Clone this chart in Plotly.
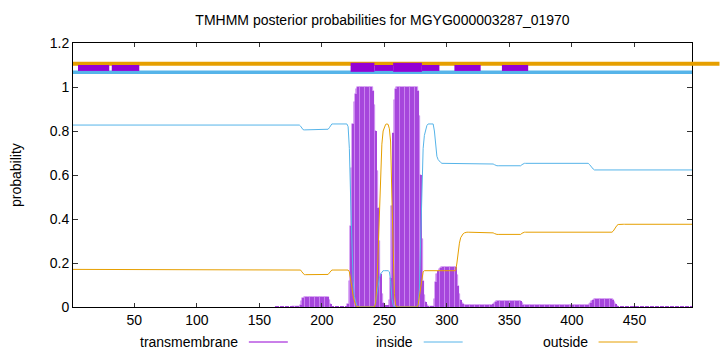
import plotly.graph_objects as go

# ---------------- data ----------------
seq_len = 496
residues = list(range(1, seq_len + 1))

# posterior probability of "inside" per residue
inside = ([0.827] * 182 + [0.822, 0.812, 0.806] + [0.805] * 19 + [0.808, 0.815, 0.825]
          + [0.832] * 13 + [0.82, 0.72, 0.5, 0.28, 0.12, 0.05, 0.02, 0.005] + [0.0] * 14
          + [0.02, 0.06, 0.1, 0.13, 0.15, 0.16] + [0.165] * 5 + [0.16, 0.12, 0.04, 0.01]
          + [0.0] * 19 + [0.01, 0.08, 0.3, 0.55, 0.72, 0.78, 0.81, 0.825] + [0.832] * 5
          + [0.8, 0.72, 0.685, 0.67, 0.662, 0.657] + [0.653] * 41 + [0.65, 0.647, 0.644]
          + [0.642] * 20 + [0.647, 0.651] + [0.653] * 52 + [0.648, 0.64, 0.632, 0.627]
          + [0.623] * 79)

# posterior probability of "outside" per residue
outside = ([0.171] * 182 + [0.168, 0.16, 0.152] + [0.147] * 19 + [0.148, 0.155, 0.163]
           + [0.168] * 13 + [0.168, 0.16, 0.13, 0.09, 0.05, 0.02, 0.008, 0.002] + [0.0] * 14
           + [0.02, 0.1, 0.25, 0.45, 0.62, 0.74, 0.8, 0.82, 0.83, 0.832, 0.83, 0.81, 0.75,
              0.5, 0.2, 0.06, 0.01]
           + [0.0] * 17 + [0.01, 0.05, 0.1, 0.14, 0.16] + [0.165] * 26
           + [0.2, 0.25, 0.29, 0.315, 0.327, 0.333, 0.337] + [0.34] * 22
           + [0.337, 0.334, 0.331] + [0.33] * 20 + [0.335, 0.339] + [0.34] * 71
           + [0.345, 0.355, 0.365, 0.371, 0.375] + [0.376] * 59)

# posterior probability of "transmembrane" per residue
transmembrane = ([0.0] * 162 + [0.002] * 14 + [0.004] * 6 + [0.01, 0.028, 0.042] + [0.047] * 19
                 + [0.044, 0.03, 0.012] + [0.002] * 13
                 + [0.012, 0.12, 0.37, 0.63, 0.83, 0.93, 0.97, 0.99] + [1.0] * 12
                 + [0.98, 0.92, 0.8, 0.62, 0.45, 0.3, 0.15, 0.06, 0.02, 0.01, 0.005, 0.003,
                    0.005, 0.03, 0.13, 0.46, 0.79, 0.94, 0.99]
                 + [1.0] * 17 + [0.98, 0.87, 0.6, 0.31, 0.12, 0.055, 0.025, 0.01] + [0.003] * 5
                 + [0.035, 0.115, 0.15, 0.165, 0.173, 0.178] + [0.182] * 12
                 + [0.147, 0.097, 0.057, 0.032, 0.02, 0.014, 0.01] + [0.007] * 22
                 + [0.013, 0.019, 0.025] + [0.028] * 20 + [0.018, 0.01] + [0.007] * 52
                 + [0.012, 0.02, 0.028, 0.033] + [0.037] * 15
                 + [0.032, 0.022, 0.012, 0.006, 0.002] + [0.001] * 59)

# topology strip at the top (start, end residue)
tm_tall_segments = [(223, 242), (257, 280)]
tm_low_segments = [(5, 30), (32, 54), (242, 257), (280, 294), (306, 327), (344, 365)]
inside_level = 1.067
outside_level = 1.106

title_text = "TMHMM posterior probabilities for MGYG000003287_01970"
x_ticks = [50, 100, 150, 200, 250, 300, 350, 400, 450]
y_ticks = [0, 0.2, 0.4, 0.6, 0.8, 1.0, 1.2]
legend_labels = ["transmembrane", "inside", "outside"]

# ---------------- styling ----------------
PURPLE = "#9400d3"
BLUE = "#56b4e9"
ORANGE = "#e69f00"
LIGHT_PURPLE = "#c880ee"
DARK_PURPLE = "#a646dc"
CLEAR = "rgba(0,0,0,0)"
FONT = "Liberation Sans, Arial, sans-serif"

W, H = 720, 352
L, R, T, B = 73, 692.5, 43, 307


def pxx(px):
    return (px - L) / (R - L)


def pxy(py):
    return (B - py) / (B - T)


stripe_colors = [DARK_PURPLE if i % 2 == 0 else CLEAR for i in range(seq_len)]
under_line_colors = [LIGHT_PURPLE if v > 0.004 else CLEAR for v in transmembrane]

fig = go.Figure()
# light underlay (solid area of the impulses)
fig.add_trace(go.Bar(x=residues, y=transmembrane, width=1.0,
                     marker=dict(color=LIGHT_PURPLE, line=dict(width=0.6, color=under_line_colors)),
                     showlegend=False, hoverinfo="skip"))
# darker stripes produced by the impulses in the reference
fig.add_trace(go.Bar(x=residues, y=transmembrane, width=0.9,
                     marker=dict(color=stripe_colors, line=dict(width=0)),
                     showlegend=False, hoverinfo="skip"))
fig.add_trace(go.Scatter(x=residues, y=inside, mode="lines",
                         line=dict(color=BLUE, width=1), showlegend=False))
fig.add_trace(go.Scatter(x=residues, y=outside, mode="lines",
                         line=dict(color=ORANGE, width=1), showlegend=False))

shapes = []
# inside line
shapes.append(dict(type="line", xref="x", yref="y", x0=1, x1=seq_len,
                   y0=inside_level, y1=inside_level, line=dict(color=BLUE, width=3.3)))
# outside line (extends to the right edge of the image, as in reference)
shapes.append(dict(type="line", xref="paper", yref="y", x0=0, x1=pxx(W),
                   y0=outside_level, y1=outside_level, line=dict(color=ORANGE, width=4)))
for s, e in tm_low_segments:
    shapes.append(dict(type="rect", xref="x", yref="y", x0=s, x1=e, y0=1.073, y1=1.1,
                       fillcolor=PURPLE, line=dict(width=0)))
for s, e in tm_tall_segments:
    shapes.append(dict(type="rect", xref="x", yref="y", x0=s, x1=e, y0=1.069, y1=1.11,
                       fillcolor=PURPLE, line=dict(width=0)))

# legend samples
legend_colors = [PURPLE, BLUE, ORANGE]
legend_text_right = [240, 415, 590]
annotations = []
for lab, col, xr in zip(legend_labels, legend_colors, legend_text_right):
    annotations.append(dict(text=lab, x=pxx(xr), y=pxy(342), xref="paper", yref="paper",
                            xanchor="right", yanchor="middle", showarrow=False,
                            font=dict(family=FONT, size=14, color="#000")))
    shapes.append(dict(type="line", xref="paper", yref="paper", x0=pxx(xr + 9), x1=pxx(xr + 48),
                       y0=pxy(342), y1=pxy(342), line=dict(color=col, width=1)))

annotations.append(dict(text="probability", x=pxx(16), y=0.5, xref="paper", yref="paper",
                        textangle=-90, xanchor="center", yanchor="middle", showarrow=False,
                        font=dict(family=FONT, size=14, color="#000")))

fig.update_layout(
    width=W, height=H,
    margin=dict(l=L, r=W - R, t=T, b=H - B, pad=0),
    paper_bgcolor="white", plot_bgcolor="white",
    barmode="overlay", bargap=0,
    font=dict(family=FONT, size=14, color="#000"),
    title=dict(text=title_text, x=pxx((L + R) / 2), xref="paper", xanchor="center",
               y=1 - 20 / H, yref="container", yanchor="middle",
               font=dict(family=FONT, size=14, color="#000")),
    shapes=shapes,
    annotations=annotations,
    showlegend=False,
)
fig.update_xaxes(range=[1, seq_len], tickvals=x_ticks, ticks="inside", ticklen=4,
                 tickcolor="#333", showline=True, linecolor="#000", linewidth=1,
                 mirror="allticks", showgrid=False, zeroline=False,
                 tickfont=dict(family=FONT, size=14, color="#000"))
fig.update_yaxes(range=[0, 1.2], tickvals=y_ticks, ticktext=["0", "0.2", "0.4", "0.6", "0.8", "1", "1.2"],
                 ticks="inside", ticklen=5,
                 tickcolor="#333", showline=True, linecolor="#000", linewidth=1,
                 mirror="allticks", showgrid=False, zeroline=False,
                 tickfont=dict(family=FONT, size=14, color="#000"))

fig.write_html("out.html")
